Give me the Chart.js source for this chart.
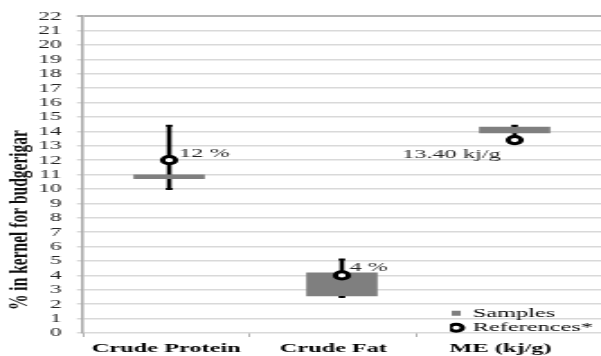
<!DOCTYPE html>
<html>
<head>
<meta charset="utf-8">
<script src="https://cdn.jsdelivr.net/npm/chart.js@4.4.1/dist/chart.umd.min.js"></script>
<style>
  html, body { margin: 0; padding: 0; background: #fff; overflow: hidden; }
</style>
</head>
<body>
<canvas id="c" width="334" height="356" style="width:601px;height:356px;display:block"></canvas>
<script>
// Nutrient categories along the x axis
const categories = ['Crude Protein', 'Crude Fat', 'ME (kj/g)'];
// Range measured in the kernel samples (min / max)
const sampleLow  = [10.72, 2.58, 13.90];
const sampleHigh = [10.98, 4.17, 14.30];
// Literature reference values with their spread
const refValue = [12, 4, 13.40];
const refLow   = [10, 2.5, 13.4];
const refHigh  = [14.4, 5.1, 14.4];
const refUnit  = ['%', '%', 'kj/g'];
const refDecimals = [0, 0, 2];
// Value axis
const yMin = 0, yMax = 22, yStep = 1;
const yTitle = '% in kernel for budgerigar';
const seriesNames = ['Samples', 'References*'];

const serif = "'Liberation Serif', 'Times New Roman', serif";
const sampleColor = '#7f7f7f';

// category label pitch along the x axis (axis units)
const labelPitch = 0.967;
const xTickMarks = [];
categories.forEach((c, i) => {
  xTickMarks.push({ value: i * labelPitch, label: '' });
  xTickMarks.push({ value: (i + 0.5) * labelPitch, label: c });
});

const xPos = categories.map((c, i) => i + 0.5);

// value labels next to the reference markers
const labelPlacement = [
  { align: 'left',  dx: 5.5,  dy: -7 },
  { align: 'left',  dx: 4.2,  dy: -8 },
  { align: 'right', dx: -7.8, dy: 14 }
];

const refLabels = {
  id: 'refLabels',
  afterDatasetsDraw(chart) {
    const meta = chart.getDatasetMeta(1);
    const ctx = chart.ctx;
    ctx.save();
    ctx.font = '13.5px ' + serif;
    ctx.fillStyle = '#262626';
    ctx.textBaseline = 'middle';
    meta.data.forEach((pt, i) => {
      const p = labelPlacement[i];
      ctx.textAlign = p.align;
      ctx.fillText(refValue[i].toFixed(refDecimals[i]) + ' ' + refUnit[i], pt.x + p.dx, pt.y + p.dy);
    });
    ctx.restore();
  }
};

// rotated value-axis title, starting a little above the plot bottom
const valueAxisTitle = {
  id: 'valueAxisTitle',
  afterDraw(chart) {
    const ctx = chart.ctx, a = chart.chartArea;
    ctx.save();
    ctx.translate(10.5, a.bottom - 23);
    ctx.rotate(-Math.PI / 2);
    ctx.font = 'bold 15.5px ' + serif;
    ctx.fillStyle = '#111';
    ctx.textAlign = 'left';
    ctx.textBaseline = 'middle';
    ctx.fillText(yTitle, 0, 0);
    ctx.restore();
  }
};

// legend sits in the lower right corner of the plot area
const legendCorner = {
  id: 'legendCorner',
  beforeDraw(chart) {
    const lg = chart.legend, a = chart.chartArea;
    lg.left = a.left + 204;
    lg.right = lg.left + lg.width;
    lg.top = a.bottom - 27.5;
    lg.bottom = lg.top + 60;
  }
};

new Chart(document.getElementById('c'), {
  type: 'bar',
  data: {
    datasets: [
      {
        label: seriesNames[0],
        type: 'bar',
        data: xPos.map((x, i) => ({ x, y: [sampleLow[i], sampleHigh[i]] })),
        backgroundColor: sampleColor,
        borderWidth: 0,
        barThickness: 39,
        grouped: false,
        order: 2
      },
      {
        label: seriesNames[1],
        type: 'scatter',
        data: xPos.map((x, i) => ({ x, y: refValue[i] })),
        pointStyle: 'circle',
        pointRadius: 3.6,
        pointBorderWidth: 3,
        pointBorderColor: '#000',
        pointBackgroundColor: '#fff',
        order: 0
      },
      {
        label: 'spread',
        type: 'bar',
        data: xPos.map((x, i) => ({ x, y: [refLow[i], refHigh[i]] })),
        backgroundColor: '#000',
        borderWidth: 0,
        barThickness: 1.9,
        grouped: false,
        order: 3
      },
      {
        label: 'caps',
        type: 'scatter',
        data: xPos.flatMap((x, i) => [{ x, y: refLow[i] }, { x, y: refHigh[i] }]),
        pointStyle: 'line',
        pointRadius: 1.8,
        pointBorderWidth: 2,
        pointBorderColor: '#000',
        order: 1
      }
    ]
  },
  options: {
    responsive: false,
    devicePixelRatio: 1,
    animation: false,
    events: [],
    layout: { autoPadding: false, padding: { left: 12.9, right: -2, top: 15, bottom: -5 } },
    scales: {
      x: {
        type: 'linear',
        offset: false,
        min: 0,
        max: 3,
        afterBuildTicks: (axis) => { axis.ticks = xTickMarks.map(t => ({ value: t.value })); },
        ticks: {
          autoSkip: false,
          maxRotation: 0,
          minRotation: 0,
          padding: 3.9,
          color: '#000',
          font: { family: serif, size: 13.5, weight: 'bold' },
          callback: (v, i) => xTickMarks[i] ? xTickMarks[i].label : ''
        },
        grid: {
          offset: false,
          drawOnChartArea: false,
          drawTicks: true,
          tickLength: 4,
          tickWidth: 1,
          tickColor: (c) => (xTickMarks[c.index] && xTickMarks[c.index].label) ? 'rgba(0,0,0,0)' : '#b0b0b0'
        },
        border: { display: false }
      },
      y: {
        min: yMin,
        max: yMax,
        ticks: {
          stepSize: yStep,
          autoSkip: false,
          padding: 8.4,
          color: '#262626',
          font: { family: serif, size: 13 }
        },
        grid: {
          color: (c) => c.tick && c.tick.value === yMax ? '#b3b3b3' : '#d9d9d9',
          lineWidth: (c) => c.tick && c.tick.value === yMax ? 2 : 1.5,
          tickLength: 3.3
        },
        border: { display: true, color: '#a6a6a6', width: 1.5 },
        title: { display: false }
      }
    },
    plugins: {
      tooltip: { enabled: false },
      legend: {
        position: 'chartArea',
        align: 'start',
        labels: {
          usePointStyle: true,
          boxWidth: 5,
          boxHeight: 5,
          padding: 1,
          color: '#111',
          font: { family: serif, size: 13.5, lineHeight: 1 },
          generateLabels: () => [
            { text: seriesNames[0], fillStyle: sampleColor, strokeStyle: sampleColor, lineWidth: 0, pointStyle: 'rect', hidden: false, datasetIndex: 0 },
            { text: seriesNames[1], fillStyle: '#fff', strokeStyle: '#000', lineWidth: 3, pointStyle: 'circle', hidden: false, datasetIndex: 1 }
          ]
        }
      }
    }
  },
  plugins: [refLabels, valueAxisTitle, legendCorner]
});
</script>
</body>
</html>
